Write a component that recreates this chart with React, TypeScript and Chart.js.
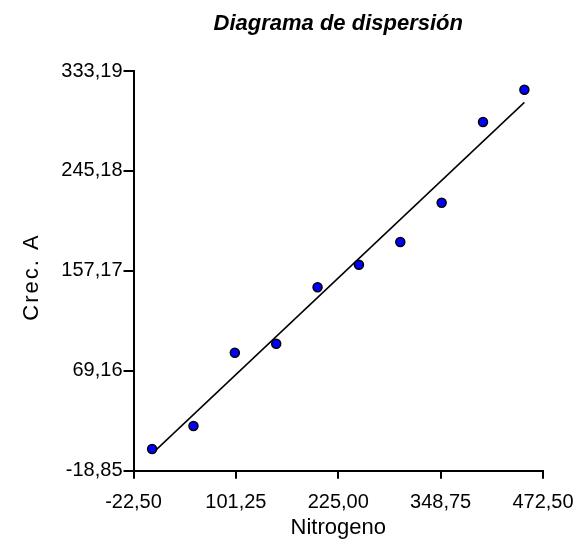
import React, { useEffect, useRef } from "react";
import { Chart, registerables } from "chart.js";

Chart.register(...registerables);

const nitrogeno = [0, 50, 100, 150, 200, 250, 300, 350, 400, 450];
const crecA = [0.3, 20.5, 85.1, 93.0, 142.7, 162.6, 182.6, 217.2, 288.3, 316.7];
const xTicks = [-22.5, 101.25, 225, 348.75, 472.5];
const yTicks = [-18.85, 69.16, 157.17, 245.18, 333.19];

const titleText = "Diagrama de dispersión";
const xTitle = "Nitrogeno";
const yTitle = "Crec. A";

const FONT = "'Liberation Sans', Arial, sans-serif";

function fitLine(xs: number[], ys: number[]) {
  const n = xs.length;
  const mx = xs.reduce((a, b) => a + b, 0) / n;
  const my = ys.reduce((a, b) => a + b, 0) / n;
  let sxy = 0;
  let sxx = 0;
  for (let i = 0; i < n; i++) {
    sxy += (xs[i] - mx) * (ys[i] - my);
    sxx += (xs[i] - mx) * (xs[i] - mx);
  }
  const b = sxy / sxx;
  const a = my - b * mx;
  const x0 = Math.min(...xs);
  const x1 = Math.max(...xs);
  return [
    { x: x0, y: a + b * x0 },
    { x: x1, y: a + b * x1 },
  ];
}

const fmt = (v: number) => v.toFixed(2).replace(".", ",");

const customTitles = {
  id: "customTitles",
  afterDraw(chart: any) {
    const { ctx, chartArea } = chart;
    ctx.save();
    ctx.fillStyle = "#000000";
    // main title, centred over the plot area
    ctx.font = `italic bold 22px ${FONT}`;
    ctx.textAlign = "center";
    ctx.textBaseline = "alphabetic";
    ctx.fillText(titleText, (chartArea.left + chartArea.right) / 2, 30);
    // y axis title, rotated
    ctx.translate(38, 278);
    ctx.rotate(-Math.PI / 2);
    ctx.font = `22px ${FONT}`;
    try {
      (ctx as any).letterSpacing = "2px";
    } catch (e) {}
    ctx.textAlign = "center";
    ctx.fillText(yTitle, 1, 0);
    ctx.restore();
  },
};

export default function App() {
  const ref = useRef<HTMLCanvasElement | null>(null);

  useEffect(() => {
    if (!ref.current) return;
    const points = nitrogeno.map((x, i) => ({ x, y: crecA[i] }));
    const chart = new Chart(ref.current, {
      type: "scatter",
      data: {
        datasets: [
          {
            label: "Crec. A",
            data: points,
            backgroundColor: "#0000FF",
            borderColor: "#000000",
            borderWidth: 1.5,
            pointRadius: 4.5,
            order: 0,
          },
          {
            type: "line",
            label: "Ajuste",
            data: fitLine(nitrogeno, crecA),
            borderColor: "#000000",
            borderWidth: 1.5,
            pointRadius: 0,
            fill: false,
            order: 1,
          } as any,
        ],
      },
      plugins: [customTitles],
      options: {
        responsive: false,
        animation: false,
        layout: { padding: { left: 0, right: 33, top: 71, bottom: 0 } },
        plugins: {
          legend: { display: false },
          tooltip: { enabled: false },
          title: { display: false },
        },
        scales: {
          x: {
            type: "linear",
            min: -22.5,
            max: 472.5,
            afterBuildTicks: (scale: any) => {
              scale.ticks = xTicks.map((v) => ({ value: v }));
            },
            afterFit: (scale: any) => {
              scale.height = 71.3;
              scale.paddingLeft = 0;
              scale.paddingRight = 0;
            },
            ticks: {
              color: "#000000",
              font: { family: FONT, size: 20 },
              padding: 12,
              maxRotation: 0,
              autoSkip: false,
              callback: (v: any) => fmt(Number(v)),
            },
            grid: {
              display: true,
              drawOnChartArea: false,
              drawTicks: true,
              tickLength: 8,
              color: "#000000",
              lineWidth: 2,
            },
            border: { display: true, color: "#000000", width: 2 },
            title: {
              display: true,
              text: xTitle,
              color: "#000000",
              font: { family: FONT, size: 22 },
              padding: { top: 0, bottom: 1 },
            },
          },
          y: {
            type: "linear",
            min: -18.85,
            max: 333.19,
            afterBuildTicks: (scale: any) => {
              scale.ticks = yTicks.map((v) => ({ value: v }));
            },
            afterFit: (scale: any) => {
              scale.width = 133.5;
              scale.paddingTop = 0;
              scale.paddingBottom = 0;
            },
            ticks: {
              color: "#000000",
              font: { family: FONT, size: 20 },
              padding: 1,
              autoSkip: false,
              callback: (v: any) => fmt(Number(v)),
            },
            grid: {
              display: true,
              drawOnChartArea: false,
              drawTicks: true,
              tickLength: 10,
              color: "#000000",
              lineWidth: 2,
            },
            border: { display: true, color: "#000000", width: 2 },
            title: { display: false, text: yTitle },
          },
        },
      },
    });
    return () => chart.destroy();
  }, []);

  return (
    <div style={{ position: "fixed", left: 0, top: 0, width: 576, height: 542, background: "#ffffff" }}>
      <canvas ref={ref} width={576} height={542} style={{ width: 576, height: 542, display: "block" }} />
    </div>
  );
}
